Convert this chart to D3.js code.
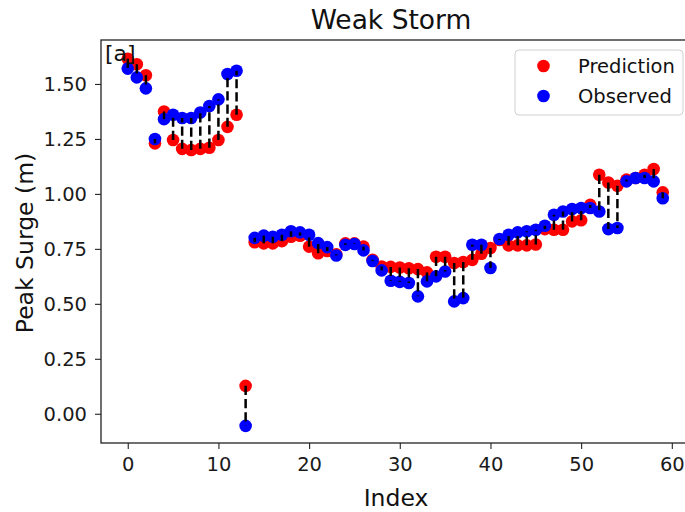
<!DOCTYPE html>
<html>
<head>
<meta charset="utf-8">
<script src="https://cdn.jsdelivr.net/npm/d3@7"></script>
<style>
  html, body { margin: 0; padding: 0; background: #fff; }
  svg { display: block; font-family: "DejaVu Sans", sans-serif; }
</style>
</head>
<body>
<svg id="chart" width="685" height="512"></svg>
<script>
// Peak surge per event: model prediction vs. observed gauge value
const prediction = [1.615,1.59,1.54,1.23,1.375,1.245,1.205,1.20,1.205,1.21,1.245,1.305,1.36,
  0.127,
  0.78,0.775,0.775,0.785,0.805,0.81,0.76,0.73,0.74,0.725,0.775,0.775,0.76,0.70,
  0.67,0.668,0.665,0.662,0.658,0.643,0.714,0.714,0.686,0.69,0.70,0.728,0.754,
  0.79,0.766,0.766,0.766,0.77,0.84,0.837,0.837,0.875,0.88,0.95,1.087,1.052,1.037,1.065,1.072,1.087,1.113,1.007];
const observed = [1.57,1.53,1.48,1.25,1.34,1.36,1.345,1.345,1.37,1.40,1.43,1.545,1.56,
  -0.055,
  0.80,0.81,0.805,0.814,0.83,0.825,0.814,0.776,0.758,0.72,0.768,0.772,0.743,0.695,
  0.652,0.605,0.60,0.595,0.534,0.602,0.625,0.647,0.511,0.526,0.769,0.769,0.663,
  0.795,0.814,0.825,0.83,0.837,0.855,0.905,0.92,0.931,0.936,0.936,0.92,0.84,0.845,1.057,1.072,1.072,1.057,0.98];
const xTicks = [0, 10, 20, 30, 40, 50, 60];
const yTicks = [0.00, 0.25, 0.50, 0.75, 1.00, 1.25, 1.50];
const seriesNames = ["Prediction", "Observed"];
const seriesColors = ["#ff0000", "#0000ff"];

const svg = d3.select("#chart");
const plotLeft = 101, plotRight = 689.5, plotTop = 40, plotBottom = 443;

const x = d3.scaleLinear().domain([-2.95, 61.95]).range([plotLeft, plotRight]);
const y = d3.scaleLinear().domain([-0.133, 1.70]).range([plotBottom, plotTop]);

const idx = d3.range(prediction.length);
const plot = svg.append("g");

// markers: prediction first, observed drawn over it
plot.selectAll("circle.pred").data(idx).join("circle")
  .attr("class", "pred")
  .attr("cx", i => x(i)).attr("cy", i => y(prediction[i]))
  .attr("r", 6.3).attr("fill", seriesColors[0]);
plot.selectAll("circle.obs").data(idx).join("circle")
  .attr("class", "obs")
  .attr("cx", i => x(i)).attr("cy", i => y(observed[i]))
  .attr("r", 6.3).attr("fill", seriesColors[1]);

// dashed connectors between each predicted and observed value
plot.selectAll("line.err").data(idx).join("line")
  .attr("class", "err")
  .attr("x1", i => x(i)).attr("x2", i => x(i))
  .attr("y1", i => y(prediction[i])).attr("y2", i => y(observed[i]))
  .attr("stroke", "#000").attr("stroke-width", 2.5)
  .attr("stroke-dasharray", "9.2,4");

// axes
const xAxis = svg.append("g").attr("transform", `translate(0,${plotBottom})`)
  .call(d3.axisBottom(x).tickValues(xTicks).tickFormat(d3.format("d")).tickSizeOuter(0).tickSize(6).tickPadding(8));
const yAxis = svg.append("g").attr("transform", `translate(${plotLeft},0)`)
  .call(d3.axisLeft(y).tickValues(yTicks).tickFormat(d3.format(".2f")).tickSizeOuter(0).tickSize(6).tickPadding(8));
[xAxis, yAxis].forEach(g => {
  g.select(".domain").remove();
  g.selectAll(".tick line").attr("stroke", "#222").attr("stroke-width", 1.1);
  g.selectAll(".tick text").attr("fill", "#1a1a1a").attr("font-size", 19.5)
    .attr("font-family", "DejaVu Sans");
});

// frame
svg.append("rect")
  .attr("x", plotLeft).attr("y", plotTop)
  .attr("width", plotRight - plotLeft).attr("height", plotBottom - plotTop)
  .attr("fill", "none").attr("stroke", "#222").attr("stroke-width", 1.3);

// titles
svg.append("text").attr("x", 391).attr("y", 29).attr("text-anchor", "middle")
  .attr("font-size", 26.5).attr("fill", "#111").text("Weak Storm");
svg.append("text").attr("x", 396).attr("y", 506).attr("text-anchor", "middle")
  .attr("font-size", 23.5).attr("fill", "#111").text("Index");
svg.append("text").attr("transform", "translate(33,243) rotate(-90)")
  .attr("text-anchor", "middle").attr("font-size", 23.5).attr("fill", "#111")
  .text("Peak Surge (m)");
svg.append("text").attr("x", 105).attr("y", 61)
  .attr("font-size", 22).attr("fill", "#111").text("[a]");

// legend
const lg = svg.append("g");
lg.append("rect").attr("x", 515).attr("y", 50).attr("width", 168).attr("height", 65)
  .attr("rx", 4).attr("fill", "#fff").attr("fill-opacity", 0.85)
  .attr("stroke", "#d0d0d0").attr("stroke-width", 1);
seriesNames.forEach((name, k) => {
  const cy = 66 + k * 30;
  lg.append("circle").attr("cx", 543.5).attr("cy", cy).attr("r", 6.3).attr("fill", seriesColors[k]);
  lg.append("text").attr("x", 578).attr("y", cy + 7)
    .attr("font-size", 19.5).attr("fill", "#111").text(name);
});
</script>
</body>
</html>
